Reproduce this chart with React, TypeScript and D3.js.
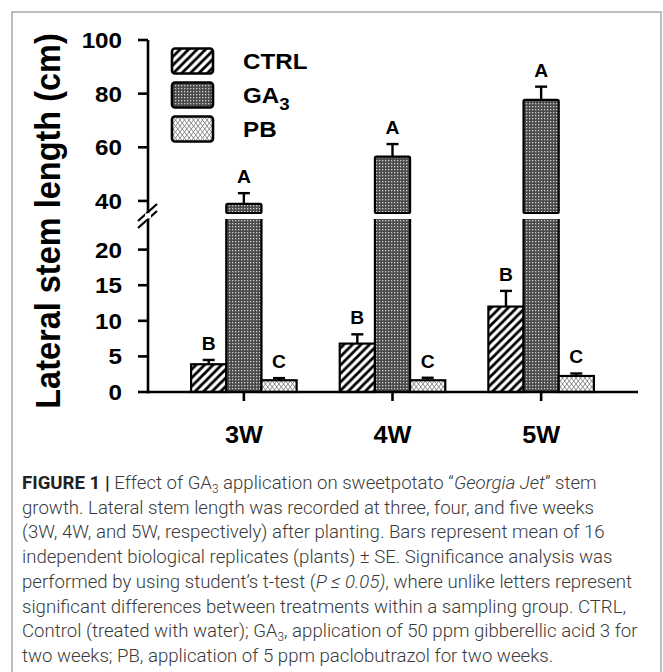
import React from "react";
import * as d3 from "d3";

// Sampling groups (weeks after planting)
const categories = ["3W", "4W", "5W"];
const seriesNames = ["CTRL", "GA3", "PB"];

// Mean lateral stem length (cm) and standard errors per treatment
const ctrlMean = [3.9, 6.8, 12.0];
const ctrlSE = [0.6, 1.3, 2.2];
const ga3Mean = [38.9, 56.5, 77.7];
const ga3SE = [4.0, 4.7, 4.9];
const pbMean = [1.65, 1.65, 2.25];
const pbSE = [0.3, 0.35, 0.35];

// Significance letters
const ctrlLetters = ["B", "B", "B"];
const ga3Letters = ["A", "A", "A"];
const pbLetters = ["C", "C", "C"];

// Broken y axis: lower and upper segments
const lowerDomain = [0, 24.3];
const upperDomain = [35.5, 100];
const lowerTicks = [0, 5, 10, 15, 20];
const upperTicks = [40, 60, 80, 100];

const captionLines: { t: string; b?: boolean; i?: boolean; sub?: boolean }[][] = [
  [
    { t: "FIGURE 1 | ", b: true },
    { t: "Effect of GA" },
    { t: "3", sub: true },
    { t: " application on sweetpotato \u201C" },
    { t: "Georgia Jet", i: true },
    { t: "\u201D stem" },
  ],
  [{ t: "growth. Lateral stem length was recorded at three, four, and five weeks" }],
  [{ t: "(3W, 4W, and 5W, respectively) after planting. Bars represent mean of 16" }],
  [{ t: "independent biological replicates (plants) \u00B1 SE. Significance analysis was" }],
  [
    { t: "performed by using student\u2019s t-test (" },
    { t: "P \u2264 0.05)", i: true },
    { t: ", where unlike letters represent" },
  ],
  [{ t: "significant differences between treatments within a sampling group. CTRL," }],
  [
    { t: "Control (treated with water); GA" },
    { t: "3", sub: true },
    { t: ", application of 50 ppm gibberellic acid 3 for" },
  ],
  [{ t: "two weeks; PB, application of 5 ppm paclobutrazol for two weeks." }],
];

const W = 663;
const H = 672;
const BOLD = "'Liberation Sans', Arial, Helvetica, sans-serif";
const CAPTION_FONT = "Roboto, 'Liberation Sans', Arial, sans-serif";

const SX = 1.1; // horizontal glyph stretch of the chart lettering
const CAP_SX = 0.98; // horizontal compression of the caption lettering

function SText(props: {
  x: number;
  y: number;
  size: number;
  anchor?: string;
  rotate?: boolean;
  children: React.ReactNode;
}) {
  const { x, y, size, anchor = "middle", rotate, children } = props;
  return (
    <text
      transform={`translate(${x},${y}) scale(${SX},1)${rotate ? " rotate(-90)" : ""}`}
      fontFamily={BOLD}
      fontWeight="bold"
      fontSize={size}
      textAnchor={anchor}
      fill="#000"
    >
      {children}
    </text>
  );
}

export default function App() {
  const axisX = 148;
  const baseY = 392;

  const yLower = d3.scaleLinear().domain(lowerDomain).range([baseY, 219]);
  const yUpper = d3.scaleLinear().domain(upperDomain).range([213, 40]);
  const y = (v: number) => (v <= lowerDomain[1] ? yLower(v) : yUpper(v));

  const x0 = d3.scaleBand<string>().domain(categories).range([axisX, 637]).paddingInner(0.29).paddingOuter(0.29);
  const x1 = d3.scaleBand<string>().domain(seriesNames).range([0, x0.bandwidth()]);

  const series = [
    { name: "CTRL", mean: ctrlMean, se: ctrlSE, letters: ctrlLetters, fill: "url(#hatchCtrl)" },
    { name: "GA3", mean: ga3Mean, se: ga3SE, letters: ga3Letters, fill: "url(#meshGa)" },
    { name: "PB", mean: pbMean, se: pbSE, letters: pbLetters, fill: "url(#crossPb)" },
  ];

  const bars: React.ReactNode[] = [];
  const errs: React.ReactNode[] = [];
  const labels: React.ReactNode[] = [];

  series.forEach((s) => {
    categories.forEach((c, i) => {
      const bx = (x0(c) as number) + (x1(s.name) as number);
      const bw = x1.bandwidth();
      const m = s.mean[i];
      const top = y(m);
      const errTop = y(m + s.se[i]);
      const cx = bx + bw / 2;
      if (m > lowerDomain[1]) {
        // broken bar: lower piece up to the break, upper piece above it
        const lTop = yLower(lowerDomain[1]);
        const uBot = yUpper(upperDomain[0]);
        bars.push(
          <g key={`${s.name}-${c}`}>
            <rect x={bx} y={lTop} width={bw} height={baseY - lTop} fill={s.fill} />
            <path
              d={`M${bx},${lTop}V${baseY}H${bx + bw}V${lTop}`}
              fill="none"
              stroke="#000"
              strokeWidth={2.2}
            />
            <rect
              x={bx}
              y={top}
              width={bw}
              height={uBot - top}
              fill={s.fill}
              stroke="#000"
              strokeWidth={2.2}
              rx={1.5}
            />
          </g>
        );
      } else {
        bars.push(
          <rect
            key={`${s.name}-${c}`}
            x={bx}
            y={top}
            width={bw}
            height={baseY - top}
            fill={s.fill}
            stroke="#000"
            strokeWidth={2.2}
          />
        );
      }
      errs.push(
        <g key={`e-${s.name}-${c}`} stroke="#000" strokeWidth={2.4}>
          <line x1={cx} x2={cx} y1={top} y2={errTop} />
          <line x1={cx - 6} x2={cx + 6} y1={errTop} y2={errTop} />
        </g>
      );
      labels.push(
        <SText key={`l-${s.name}-${c}`} x={cx} y={errTop - 10} size={17.5}>
          {s.letters[i]}
        </SText>
      );
    });
  });

  const breakTop = yUpper(upperDomain[0]);
  const breakBot = yLower(lowerDomain[1]);

  const legendItems = [
    { label: "CTRL", fill: "url(#hatchCtrl)", sub: false },
    { label: "GA", fill: "url(#meshGa)", sub: true },
    { label: "PB", fill: "url(#crossPb)", sub: false },
  ];

  return (
    <svg
      width={W}
      height={H}
      viewBox={`0 0 ${W} ${H}`}
      style={{ position: "absolute", left: 0, top: 0, background: "#fff" }}
    >
      <defs>
        <pattern id="hatchCtrl" patternUnits="userSpaceOnUse" width={8.5} height={8.5}>
          <rect width={8.5} height={8.5} fill="#fff" />
          <path d="M-2,10.5 L10.5,-2 M-2,2 L2,-2 M6.5,10.5 L10.5,6.5" stroke="#000" strokeWidth={2.8} />
        </pattern>
        <pattern id="meshGa" patternUnits="userSpaceOnUse" width={3} height={3}>
          <rect width={3} height={3} fill="#4a4a4a" />
          <rect x={1} y={1} width={1.3} height={1.3} fill="#cfcfcf" />
        </pattern>
        <pattern id="crossPb" patternUnits="userSpaceOnUse" width={9} height={6}>
          <rect width={9} height={6} fill="#fff" />
          <path d="M0,0 L4.5,6 L9,0 M0,6 L4.5,0 L9,6" stroke="#8a8a8a" strokeWidth={1} fill="none" />
        </pattern>
      </defs>

      {/* frame */}
      <path d={`M12,${H + 2}V12H661V${H + 2}`} fill="none" stroke="#a8a8a8" strokeWidth={1.5} />

      {/* y-axis title */}
      <SText x={60} y={221} size={32.5} rotate>
        Lateral stem length (cm)
      </SText>

      {/* bars */}
      {bars}
      {errs}
      {labels}

      {/* y axis, drawn in two segments with a break */}
      <g stroke="#000" strokeWidth={2.6} fill="none">
        <line x1={axisX} x2={axisX} y1={baseY + 1.3} y2={breakBot} />
        <line x1={axisX} x2={axisX} y1={breakTop} y2={yUpper(100)} />
        <line x1={axisX - 10} x2={axisX + 9} y1={breakTop + 8} y2={breakTop - 9} strokeWidth={2.2} />
        <line x1={axisX - 10} x2={axisX + 9} y1={breakBot + 9} y2={breakBot - 8} strokeWidth={2.2} />
        {lowerTicks.map((t) => (
          <line key={`lt${t}`} x1={axisX - 10} x2={axisX} y1={yLower(t)} y2={yLower(t)} />
        ))}
        {upperTicks.map((t) => (
          <line key={`ut${t}`} x1={axisX - 10} x2={axisX} y1={yUpper(t)} y2={yUpper(t)} />
        ))}
      </g>
      <rect x={axisX - 3} y={breakTop + 0.5} width={6} height={breakBot - breakTop - 1} fill="#fff" />
      {lowerTicks.map((t) => (
        <SText key={`ll${t}`} x={122} y={yLower(t) + 8} size={22} anchor="end">
          {t}
        </SText>
      ))}
      {upperTicks.map((t) => (
        <SText key={`ul${t}`} x={122} y={yUpper(t) + 8} size={22} anchor="end">
          {t}
        </SText>
      ))}

      {/* x axis */}
      <g stroke="#000" strokeWidth={2.6}>
        <line x1={axisX} x2={x0.range()[1] + 1} y1={baseY} y2={baseY} />
        {categories.map((c) => {
          const cx = (x0(c) as number) + x0.bandwidth() / 2;
          return <line key={`xt${c}`} x1={cx} x2={cx} y1={baseY} y2={baseY + 9} />;
        })}
      </g>
      {categories.map((c) => (
        <SText key={`xl${c}`} x={(x0(c) as number) + x0.bandwidth() / 2} y={443} size={23}>
          {c}
        </SText>
      ))}

      {/* legend */}
      {legendItems.map((it, i) => {
        const cy = 61 + i * 34;
        return (
          <g key={`lg${it.label}`}>
            <rect x={172} y={cy - 12.5} width={41} height={25} rx={3} fill={it.fill} stroke="#000" strokeWidth={2.6} />
            <SText x={243} y={cy + 8} size={22} anchor="start">
              {it.label}
              {it.sub ? (
                <tspan fontSize={17} dy={7}>
                  3
                </tspan>
              ) : null}
            </SText>
          </g>
        );
      })}

      {/* caption */}
      <g fontFamily={CAPTION_FONT} fontSize={19} fontWeight={300} fill="#3a3a3a">
        {captionLines.map((line, li) => (
          <text key={`cap${li}`} transform={`translate(22,${489 + li * 24.7}) scale(${CAP_SX},1)`}>
            {line.map((seg, si) => {
              const prevSub = si > 0 && line[si - 1].sub;
              if (seg.sub) {
                return (
                  <tspan key={si} fontSize={12} dy={4}>
                    {seg.t}
                  </tspan>
                );
              }
              return (
                <tspan
                  key={si}
                  dy={prevSub ? -4 : undefined}
                  fontWeight={seg.b ? "bold" : undefined}
                  fontStyle={seg.i ? "italic" : "normal"}
                  fill={seg.b ? "#222" : undefined}
                >
                  {seg.t}
                </tspan>
              );
            })}
          </text>
        ))}
      </g>
    </svg>
  );
}
